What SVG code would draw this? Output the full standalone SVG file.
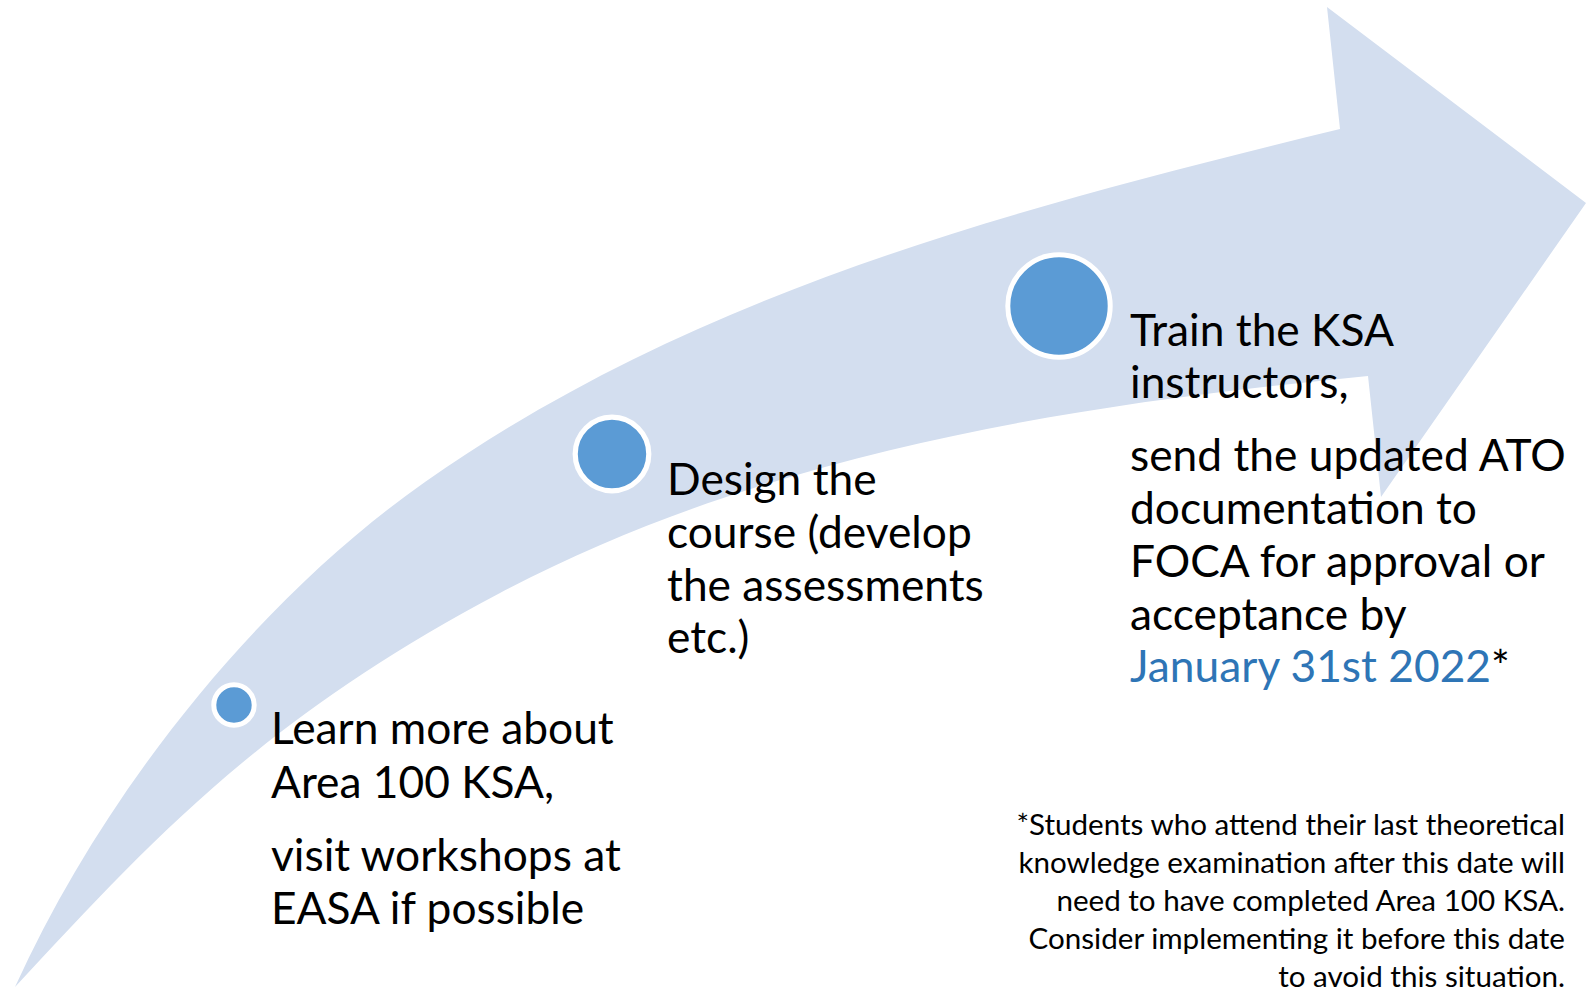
<svg xmlns="http://www.w3.org/2000/svg" width="1593" height="990" viewBox="0 0 1593 990">
  <style>
    .band { fill: #D3DEEF; }
    .dot { fill: #5B9BD5; stroke: #FFFFFF; }
    .t { font-family: Lato, "Liberation Sans", sans-serif; font-size: 44.3px; fill: #000000; }
    .blue { fill: #2E75B6; }
    .fn { font-family: Lato, "Liberation Sans", sans-serif; font-size: 29.6px; fill: #000000; text-anchor: end; }
  </style>
  <rect width="1593" height="990" fill="#FFFFFF"/>
  <g id="arrow">
    <path class="band" d="M 15,987 C 106,787 261,597 425,482 C 691,295 1000,212 1340,129 L 1327,7 L 1586,203 L 1381,497 L 1368,376 C 1069.5,404.8 765,453 500,593 C 260,720 151,841 15,987 Z"/>
  </g>
  <g id="connectors"></g>
  <g id="step1">
    <circle class="dot" cx="234" cy="705" r="20.2" stroke-width="5"/>
    <text class="t" x="271" y="744">Learn more about</text>
    <text class="t" x="271" y="798">Area 100 KSA,</text>
    <text class="t" x="271" y="871">visit workshops at</text>
    <text class="t" x="271" y="924">EASA if possible</text>
  </g>
  <g id="step2">
    <circle class="dot" cx="612" cy="454" r="36.8" stroke-width="5.2"/>
    <text class="t" x="667" y="495">Design the</text>
    <text class="t" x="667" y="548">course (develop</text>
    <text class="t" x="667" y="601">the assessments</text>
    <text class="t" x="667" y="653">etc.)</text>
  </g>
  <g id="step3">
    <circle class="dot" cx="1059" cy="306" r="51.2" stroke-width="5"/>
    <text class="t" x="1130" y="346">Train the KSA</text>
    <text class="t" x="1130" y="398">instructors,</text>
    <text class="t" x="1130" y="471">send the updated ATO</text>
    <text class="t" x="1130" y="524">documentation to</text>
    <text class="t" x="1130" y="577">FOCA for approval or</text>
    <text class="t" x="1130" y="630">acceptance by</text>
    <text class="t" x="1130" y="682"><tspan class="blue">January 31st 2022</tspan>*</text>
  </g>
  <g id="footnote">
    <text class="fn" x="1565" y="835">*Students who attend their last theoretical</text>
    <text class="fn" x="1565" y="873">knowledge examination after this date will</text>
    <text class="fn" x="1565" y="911">need to have completed Area 100 KSA.</text>
    <text class="fn" x="1565" y="949">Consider implementing it before this date</text>
    <text class="fn" x="1565" y="987">to avoid this situation.</text>
  </g>
</svg>
